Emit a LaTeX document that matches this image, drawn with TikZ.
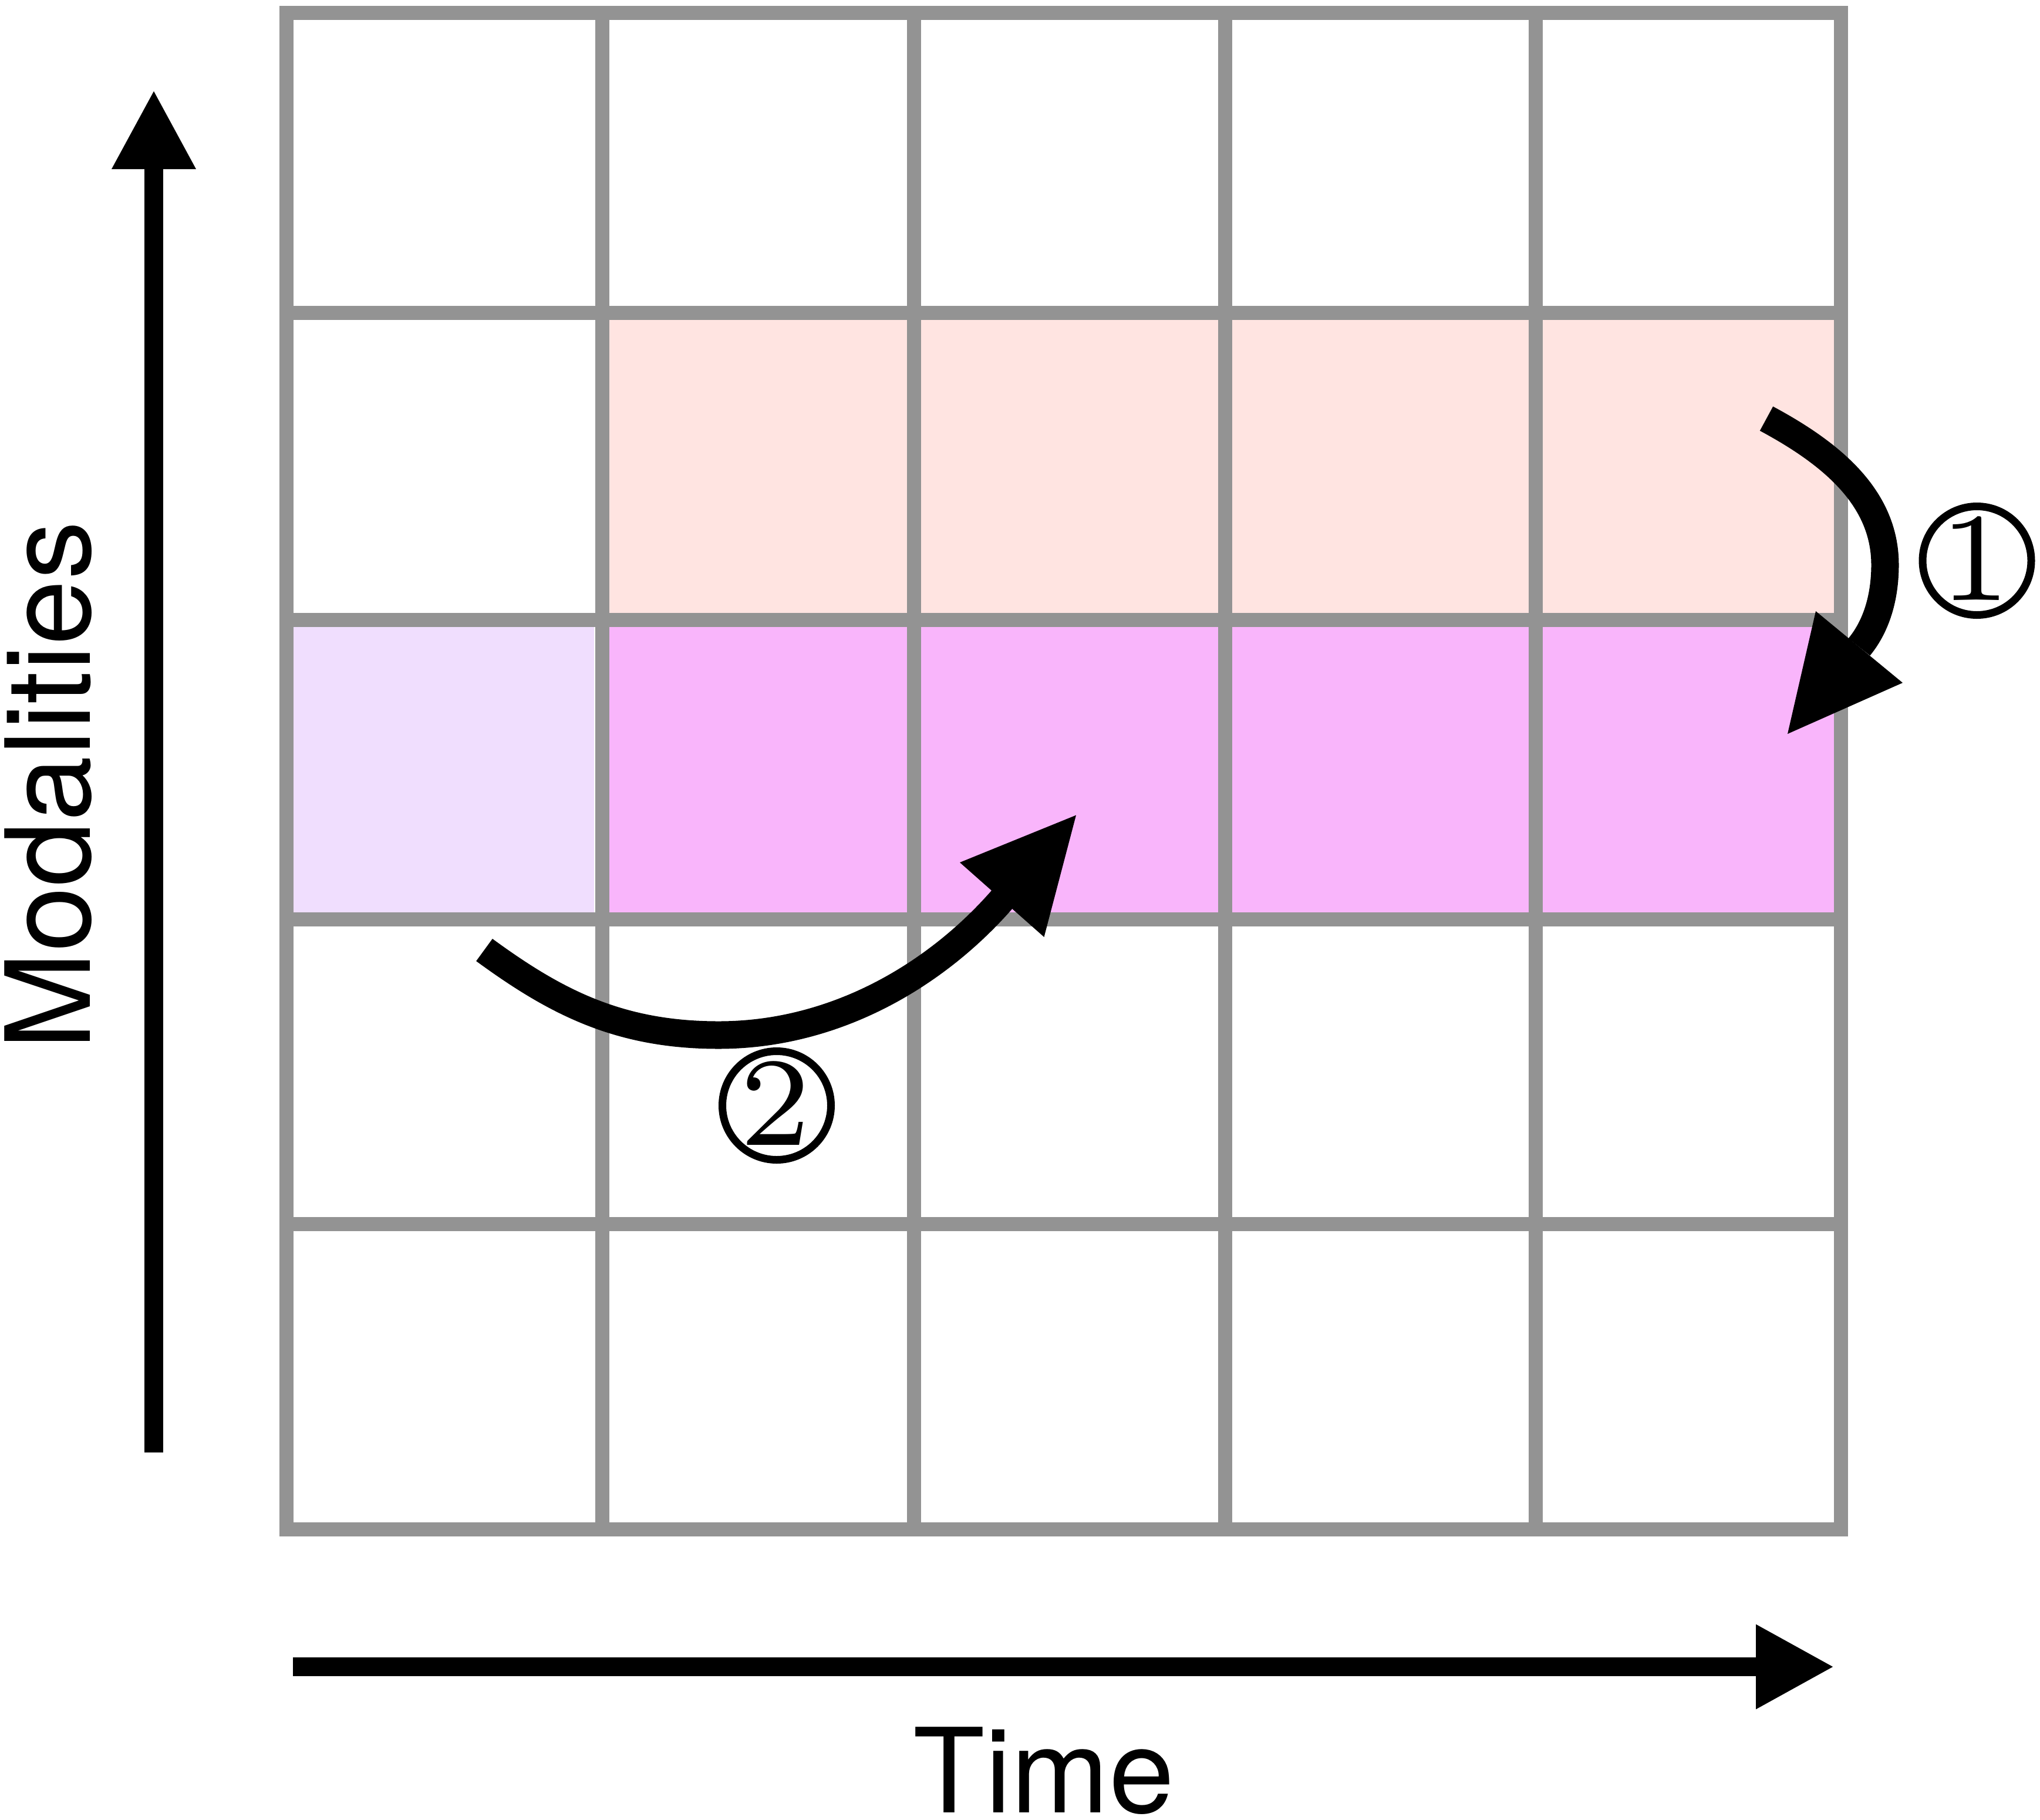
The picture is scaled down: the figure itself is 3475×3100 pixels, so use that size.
\documentclass[tikz,border=0pt]{standalone}
\usepackage{fontspec}
\setsansfont{TeX Gyre Heros}
\newfontfamily\digitfont{lmroman7-regular.otf}
\usetikzlibrary{arrows.meta}
\definecolor{gridgray}{HTML}{939393}
\definecolor{salmoncell}{HTML}{FFE4E1}
\definecolor{pinkcell}{HTML}{F9B5FB}
\definecolor{lavcell}{HTML}{F0DEFE}
\begin{document}
\begin{tikzpicture}[x=1pt,y=-1pt,
  gridline/.style={draw=gridgray, line width=24pt},
  thickarrow/.style={draw=black, line width=32pt},
  curvearrow/.style={draw=black, line width=47pt},
  headfill/.style={fill=black},
  circnum/.style={circle, draw=black, line width=13pt, minimum size=185pt, inner sep=0pt},
  digit/.style={anchor=base, inner sep=0pt, font=\digitfont\fontsize{215pt}{240pt}\selectfont},
  lbl/.style={anchor=base, inner sep=0pt, font=\sffamily\fontsize{200pt}{240pt}\selectfont}]

\useasboundingbox (0,0) rectangle (3475,3100);
\fill[white] (0,0) rectangle (3475,3100);

% cell fills
\fill[salmoncell] (1026,533) rectangle (3136,1056);
\fill[pinkcell] (1026,1056) rectangle (3136,1566);
\fill[lavcell] (488,1056) rectangle (1012,1566);

% grid
\foreach \x in {1026,1557,2087,2616} \draw[gridline] (\x,22) -- (\x,2605);
\foreach \y in {533,1056,1566,2085} \draw[gridline] (488,\y) -- (3136,\y);
\draw[gridline] (488,22) rectangle (3136,2605);

% axis arrows
\coordinate (mbot) at (262,2473.5);
\coordinate (mtop) at (262,153);
\draw[thickarrow, -{Triangle[length=135pt,width=134pt]}] (mbot) -- (mtop);
\coordinate (tleft) at (499,2839);
\coordinate (tright) at (3124.5,2839);
\draw[thickarrow, -{Triangle[length=133.5pt,width=135pt]}] (tleft) -- (tright);

% curved arrow 1
\coordinate (aones) at (3009,713);
\coordinate (aonem) at (3211,962);
\coordinate (aoneb) at (3167,1102);
\draw[curvearrow] (aones) .. controls (3115,770) and (3211,845) .. (aonem)
  .. controls (3211,1012) and (3199,1063) .. (aoneb);
\coordinate (honea) at (3093,1041);
\coordinate (honeb) at (3241,1163);
\coordinate (honet) at (3045,1250);
\fill[headfill] (honea) -- (honeb) -- (honet) -- cycle;

% curved arrow 2
\coordinate (atwos) at (825,1618);
\coordinate (atwom) at (1224,1763);
\coordinate (atwob) at (1707,1532);
\draw[curvearrow] (atwos) .. controls (946,1706.5) and (1054,1763) .. (atwom)
  .. controls (1424,1763) and (1595,1660) .. (atwob);
\coordinate (htwoa) at (1635,1469);
\coordinate (htwob) at (1778.5,1596);
\coordinate (htwot) at (1833,1388.5);
\fill[headfill] (htwoa) -- (htwob) -- (htwot) -- cycle;

% circled numbers
\node[circnum] (cone) at (3367.5,955) {};
\node[digit] (none) at (3365,1022) {1};
\node[circnum] (ctwo) at (1323,1883) {};
\node[digit] (ntwo) at (1321,1950) {2};

% axis labels
\node[lbl, rotate=90] (modal) at (153,1338) {Modalities};
\node[lbl] (timelbl) at (1778,3087) {Time};
\end{tikzpicture}
\end{document}
